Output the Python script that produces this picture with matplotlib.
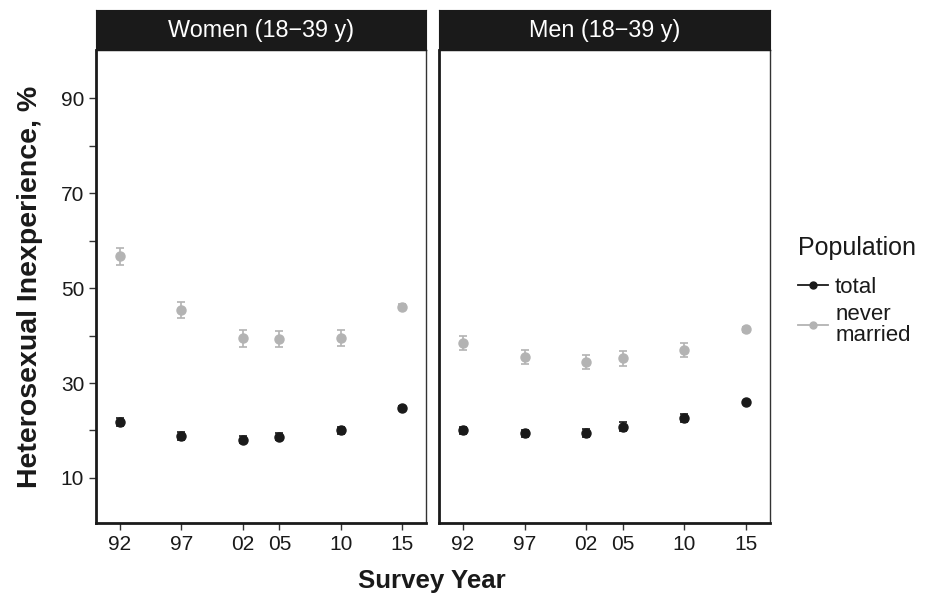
import matplotlib
matplotlib.use("Agg")
import matplotlib.pyplot as plt
from matplotlib.lines import Line2D

plt.rcParams["font.family"] = ["Liberation Sans", "DejaVu Sans"]

years = [1992, 1997, 2002, 2005, 2010, 2015]
year_labels = ["92", "97", "02", "05", "10", "15"]
panels = ["Women (18\u221239 y)", "Men (18\u221239 y)"]

women_total = [21.8, 18.9, 18.1, 18.7, 20.0, 24.7]
women_total_err = [0.8, 0.8, 0.8, 0.8, 0.8, 0.4]
women_never = [56.7, 45.4, 39.4, 39.3, 39.5, 46.1]
women_never_err = [1.8, 1.7, 1.7, 1.7, 1.6, 0.5]

men_total = [20.0, 19.4, 19.5, 20.8, 22.6, 25.9]
men_total_err = [0.8, 0.8, 0.8, 0.9, 0.9, 0.4]
men_never = [38.4, 35.5, 34.4, 35.2, 36.9, 41.3]
men_never_err = [1.5, 1.5, 1.5, 1.6, 1.5, 0.5]

COLOR_TOTAL = "#1a1a1a"
COLOR_NEVER = "#b3b3b3"

W, H = 925, 597
fig = plt.figure(figsize=(W / 100, H / 100), dpi=100)

panel_x = [(96, 426), (439, 770)]
top, bottom, strip_top = 50, 523, 10

data = [
    (women_total, women_total_err, women_never, women_never_err),
    (men_total, men_total_err, men_never, men_never_err),
]

axes = []
for (x0, x1), title, (tot, tot_e, nev, nev_e) in zip(panel_x, panels, data):
    ax = fig.add_axes([x0 / W, 1 - bottom / H, (x1 - x0) / W, (bottom - top) / H])
    axes.append(ax)
    ax.errorbar(years, nev, yerr=nev_e, fmt="o", color=COLOR_NEVER,
                ms=6.5, capsize=3, elinewidth=1.2, capthick=1.2, zorder=3)
    ax.errorbar(years, tot, yerr=tot_e, fmt="o", color=COLOR_TOTAL,
                ms=6.5, capsize=3, elinewidth=1.2, capthick=1.2, zorder=3)
    ax.set_xlim(1990.05, 2016.95)
    ax.set_ylim(0.5, 100.2)
    ax.set_xticks(years)
    ax.set_xticklabels(year_labels)
    ax.set_yticks([10, 30, 50, 70, 90])
    ax.set_yticks([20, 40, 60, 80], minor=True)
    ax.tick_params(axis="both", which="both", direction="out", length=5,
                   width=1, color="#333333", labelsize=15, labelcolor="#1a1a1a")
    for side in ["top", "right"]:
        ax.spines[side].set_color("#333333")
        ax.spines[side].set_linewidth(1.0)
    for side in ["left", "bottom"]:
        ax.spines[side].set_color("#1a1a1a")
        ax.spines[side].set_linewidth(2.0)

    # facet strip
    sax = fig.add_axes([x0 / W, 1 - top / H, (x1 - x0) / W, (top - strip_top) / H])
    sax.set_facecolor("#1a1a1a")
    sax.set_xticks([])
    sax.set_yticks([])
    for sp in sax.spines.values():
        sp.set_color("#1a1a1a")
    sax.text(0.5, 0.5, title, transform=sax.transAxes, ha="center",
             va="center", fontsize=16.8, color="white")

axes[1].tick_params(axis="y", which="both", left=False, labelleft=False)

fig.text(30 / W, 1 - (top + bottom) / 2 / H, "Heterosexual Inexperience, %",
         rotation=90, ha="center", va="center", fontsize=20.5,
         fontweight="bold", color="#1a1a1a")
fig.text(432 / W, 1 - 581 / H, "Survey Year", ha="center", va="center",
         fontsize=18.6, fontweight="bold", color="#1a1a1a")

handles = [
    Line2D([0], [0], color=COLOR_TOTAL, marker="o", ms=5, lw=1.3),
    Line2D([0], [0], color=COLOR_NEVER, marker="o", ms=5, lw=1.3),
]
leg = fig.legend(handles, ["total", "never\nmarried"], title="Population",
                 loc="upper left", bbox_to_anchor=(798 / W, 1 - 236 / H),
                 frameon=False, fontsize=16, title_fontsize=18,
                 borderpad=0, borderaxespad=0,
                 handlelength=1.35, handletextpad=0.32, labelspacing=0.3)
leg._legend_box.align = "left"
leg._legend_box.sep = 12
for t in leg.get_texts():
    t.set_linespacing(0.95)
    t.set_color("#1a1a1a")
leg.get_title().set_color("#1a1a1a")

fig.savefig("out.png", dpi=100)
